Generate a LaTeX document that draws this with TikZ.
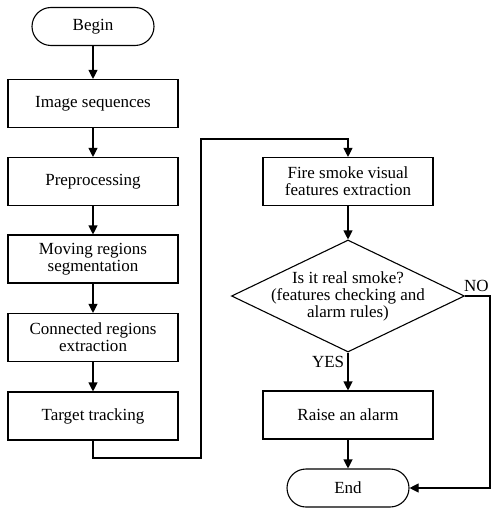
\documentclass[tikz,border=0pt]{standalone}
\usepackage{fontspec}
\setmainfont{Liberation Serif}
\usepackage{tikz}
\usetikzlibrary{arrows.meta,positioning,shapes.geometric}

\begin{document}
\begin{tikzpicture}[x=1pt,y=-1pt,
  every node/.style={font=\fontsize{17}{17}\selectfont},
  stepbox/.style={draw,line width=1.1pt,minimum width=170pt,minimum height=48pt,align=center,inner sep=1pt},
  terminal/.style={draw,line width=1.1pt,rounded corners=19pt,minimum width=122pt,minimum height=38pt},
  decision/.style={draw,line width=1.1pt,diamond,minimum width=233pt,minimum height=112pt,inner sep=0pt},
  flow/.style={line width=1.1pt,-{Triangle[width=9pt,length=9pt]}},
  wire/.style={line width=1.1pt}
]
\useasboundingbox (0,0) rectangle (492,508);
%--- left column ---
\node[terminal] (begin) at (93,26.5) {Begin};
\node[stepbox] (img) at (93,103.5) {Image sequences};
\node[stepbox] (pre) at (93,181.5) {Preprocessing};
\node[stepbox] (mov) at (93,259) {Moving regions\\segmentation};
\node[stepbox] (con) at (93,337.5) {Connected regions\\extraction};
\node[stepbox] (tgt) at (93,416) {Target tracking};
%--- right column ---
\node[stepbox] (fire) at (348,181.5) {Fire smoke visual\\features extraction};
\node[decision] (dec) at (348,296) {};
\node[align=center] (dectext) at (dec) {Is it real smoke?\\(features checking and\\alarm rules)};
\node[stepbox] (alarm) at (348,415) {Raise an alarm};
\node[terminal] (end) at (348,488) {End};
% corner points
\coordinate (c1) at (201,458);
\coordinate (c2) at (201,139);
\coordinate (n1) at (490,296);
\coordinate (n2) at (490,488);
%--- connectors ---
\draw[flow] (begin) -- (img);
\draw[flow] (img) -- (pre);
\draw[flow] (pre) -- (mov);
\draw[flow] (mov) -- (con);
\draw[flow] (con) -- (tgt);
\draw[flow] (tgt.south) |- (c1) -- (c2) -| (fire.north);
\draw[flow] (fire) -- (dec.north);
\draw[flow] (dec.south) -- node[left,pos=0.25] (yes) {YES} (alarm);
\draw[flow] (alarm) -- (end);
\draw[flow] (dec.east) -- node[above,pos=0.45] (no) {NO} (n1) -- (n2) -- (end.east);
\end{tikzpicture}
\end{document}
